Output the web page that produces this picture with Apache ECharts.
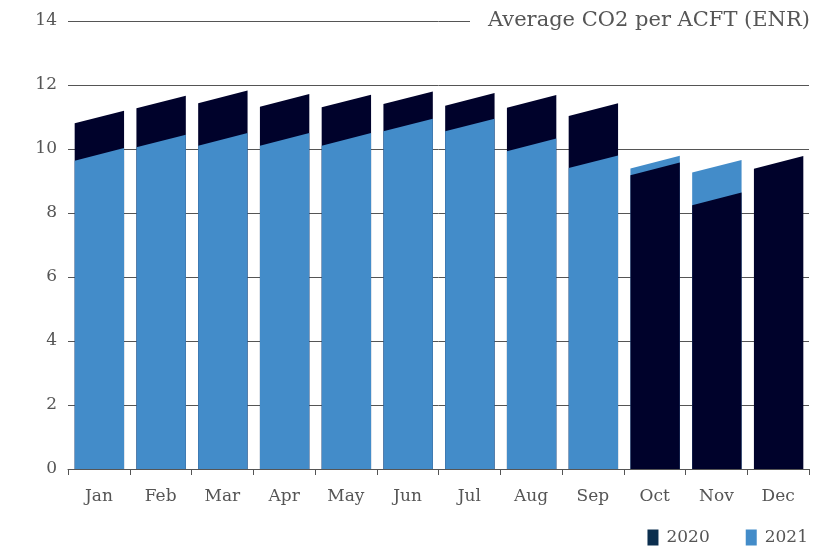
<!DOCTYPE html>
<html>
<head>
<meta charset="utf-8">
<script src="https://cdn.jsdelivr.net/npm/echarts@6/dist/echarts.min.js"></script>
<style>
  html, body { margin: 0; padding: 0; background: #fff; }
  #chart { width: 828px; height: 554px; }
</style>
</head>
<body>
<div id="chart"></div>
<script>
// Monthly average CO2 per ACFT (ENR), two years overlaid per month
const months = ['Jan', 'Feb', 'Mar', 'Apr', 'May', 'Jun', 'Jul', 'Aug', 'Sep', 'Oct', 'Nov', 'Dec'];
const values2020 = [11.0, 11.47, 11.63, 11.52, 11.5, 11.6, 11.55, 11.49, 11.23, 9.38, 8.44, 9.58];
const values2021 = [9.83, 10.25, 10.3, 10.3, 10.3, 10.75, 10.75, 10.13, 9.6, 9.59, 9.46, null];
const yTicks = { min: 0, max: 14, interval: 2 };

const COLOR_2020 = '#00022b';
const COLOR_2021 = '#438cc9';
const FONT = 'DejaVu Serif';

// Bars are drawn as slanted-top prisms: the top edge rises from left to right.
function makeRenderer(own, other, color) {
  return function (params, api) {
    const i = api.value(0);
    const v = api.value(1);
    if (v == null || isNaN(v)) return null;
    const center = api.coord([i, v]);
    const base = api.coord([i, 0]);
    const bw = api.size([1, 0])[0] * 0.8;
    const half = bw * 0.128;
    const x0 = center[0] - bw / 2 + 0.5, x1 = center[0] + bw / 2 + 0.5;
    const o = other[i];
    const inFront = (o == null) || v <= o;
    return {
      type: 'polygon',
      z2: inFront ? 10 : 5,
      shape: {
        points: [
          [x0, base[1]],
          [x0, center[1] + half],
          [x1, center[1] - half],
          [x1, base[1]]
        ]
      },
      style: { fill: color }
    };
  };
}

const chart = echarts.init(document.getElementById('chart'));
chart.setOption({
  animation: false,
  title: {
    text: 'Average CO2 per ACFT (ENR)',
    right: 18,
    top: 8,
    backgroundColor: '#fff',
    padding: [2, 0, 2, 18],
    textStyle: { fontFamily: FONT, fontWeight: 'normal', fontSize: 21, color: '#555' }
  },
  legend: {
    right: 15,
    bottom: 3,
    icon: 'rect',
    itemWidth: 11,
    itemHeight: 16,
    itemGap: 36,
    textStyle: { fontFamily: FONT, fontSize: 17, color: '#555', padding: [0, 0, 0, 3] },
    data: [
      { name: '2020', itemStyle: { color: '#0b2e4e' } },
      { name: '2021', itemStyle: { color: COLOR_2021 } }
    ]
  },
  grid: { left: 68, right: 19, top: 21, bottom: 85 },
  xAxis: {
    type: 'category',
    data: months,
    axisLine: { lineStyle: { color: '#555', width: 1 } },
    axisTick: { show: true, length: 6, lineStyle: { color: '#555' } },
    axisLabel: { fontFamily: FONT, fontSize: 17, color: '#555', margin: 19 }
  },
  yAxis: {
    type: 'value',
    min: yTicks.min,
    max: yTicks.max,
    interval: yTicks.interval,
    axisLine: { show: false },
    axisTick: { show: false },
    axisLabel: { fontFamily: FONT, fontSize: 17, color: '#555', margin: 11 },
    splitLine: { lineStyle: { color: '#555', width: 1 } }
  },
  series: [
    {
      name: '2020',
      type: 'custom',
      itemStyle: { color: COLOR_2020 },
      renderItem: makeRenderer(values2020, values2021, COLOR_2020),
      encode: { x: 0, y: 1 },
      data: values2020.map((v, i) => [i, v])
    },
    {
      name: '2021',
      type: 'custom',
      itemStyle: { color: COLOR_2021 },
      renderItem: makeRenderer(values2021, values2020, COLOR_2021),
      encode: { x: 0, y: 1 },
      data: values2021.map((v, i) => [i, v])
    }
  ]
});
</script>
</body>
</html>
